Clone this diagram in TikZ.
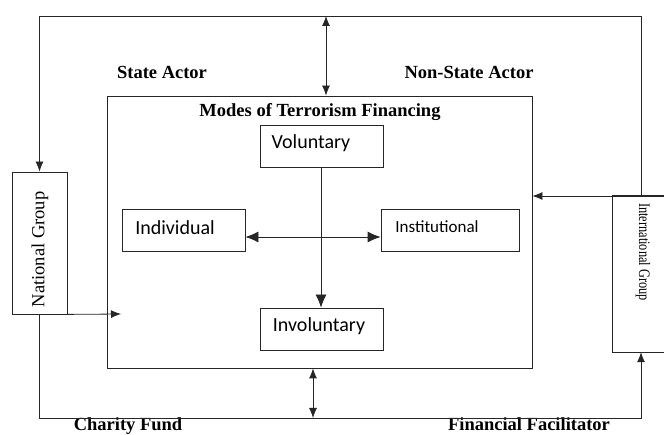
\documentclass[tikz,border=0pt]{standalone}
\usepackage{fontspec}
\setmainfont{Liberation Serif}
\newfontfamily\calib{Carlito}
\usetikzlibrary{arrows.meta}
\tikzset{
  ln/.style={line width=0.8pt, draw=black!85},
  arr/.style={ln, -{Latex[length=10pt,width=8pt]}},
  darr/.style={ln, {Latex[length=10pt,width=8pt]}-{Latex[length=10pt,width=8pt]}},
  iarr/.style={ln, -{Latex[length=13pt,width=11pt]}},
  idarr/.style={ln, {Latex[length=13pt,width=11pt]}-{Latex[length=13pt,width=11pt]}},
  box/.style={ln, rectangle, inner sep=0pt},
  stxt/.style={inner sep=0pt, font=\calib\fontsize{20}{23}\selectfont},
  btxt/.style={inner sep=0pt, font=\bfseries\fontsize{18.5}{22}\selectfont},
  rtxt/.style={inner sep=0pt, font=\fontsize{18.5}{22}\selectfont}
}
\begin{document}
\begin{tikzpicture}[x=1pt,y=-1pt]
\useasboundingbox[fill=white] (0,0) rectangle (664,435);
% main box
\node[box, minimum width=425pt, minimum height=272pt] (main) at (319.5,232) {};
\node[btxt] (modes) at (320,112) {Modes of Terrorism Financing};
% inner boxes
\node[box, minimum width=123pt, minimum height=42pt] (vol) at (321.5,146) {};
\node[stxt] (volt) at (311,143) {Voluntary};
\node[box, minimum width=123pt, minimum height=42pt] (inv) at (321.5,329) {};
\node[stxt] (invt) at (319,326) {Involuntary};
\node[box, minimum width=123pt, minimum height=42pt] (ind) at (183.5,230) {};
\node[stxt] (indt) at (175,228) {Individual};
\node[box, minimum width=138pt, minimum height=42pt] (ins) at (450,230) {};
\node[stxt, font=\calib\fontsize{17}{20}\selectfont] (inst) at (437,227) {Institutional};
% inner connectors
\coordinate (vc) at (321,0);
\draw[iarr] (vol.south -| vc) -- (inv.north -| vc);
\coordinate (hy) at (0,237);
\draw[idarr] (ind.east |- hy) -- (ins.west |- hy);
% side groups
\node[box, minimum width=55pt, minimum height=142pt] (ng) at (39.5,243) {};
\node[rtxt, rotate=90] (ngt) at (40,249.5) {National Group};
\node[inner sep=0pt, minimum width=51pt, minimum height=156pt] (ig) at (638.5,274) {};
\draw[ln] (ig.north east) -- (ig.north west) -- (ig.south west) -- (ig.south east);
\node[inner sep=0pt, rotate=-90] (igt) at (643,252) {\scalebox{0.77}[1]{\fontsize{16}{19}\selectfont International Group}};
% labels
\node[btxt] (sa) at (162,72) {State Actor};
\node[btxt] (nsa) at (469,72) {Non-State Actor};
\node[btxt, anchor=base] (cf) at (128,431) {Charity Fund};
\node[btxt, anchor=base] (ff) at (529,431) {Financial Facilitator};
% outer loop
\coordinate (tl) at (39.5,16);
\coordinate (tr) at (641,16);
\coordinate (rj) at (641,196);
\draw[arr] (rj) -- (tr) -- (tl) -- (ng.north);
\coordinate (re) at (664,196);
\draw[arr] (re) -- (re -| main.east);
\coordinate (t1) at (326,16);
\draw[darr] (t1) -- (t1 |- main.north);
\coordinate (na) at (121,314);
\draw[arr] (ng.south east) -- (na);
\coordinate (bl) at (39.5,418);
\coordinate (br) at (641,418);
\draw[arr] (ng.south) -- (bl) -- (br) -- (br |- ig.south);
\coordinate (b1) at (313,418);
\draw[darr] (main.south -| b1) -- (b1);
\end{tikzpicture}
\end{document}
